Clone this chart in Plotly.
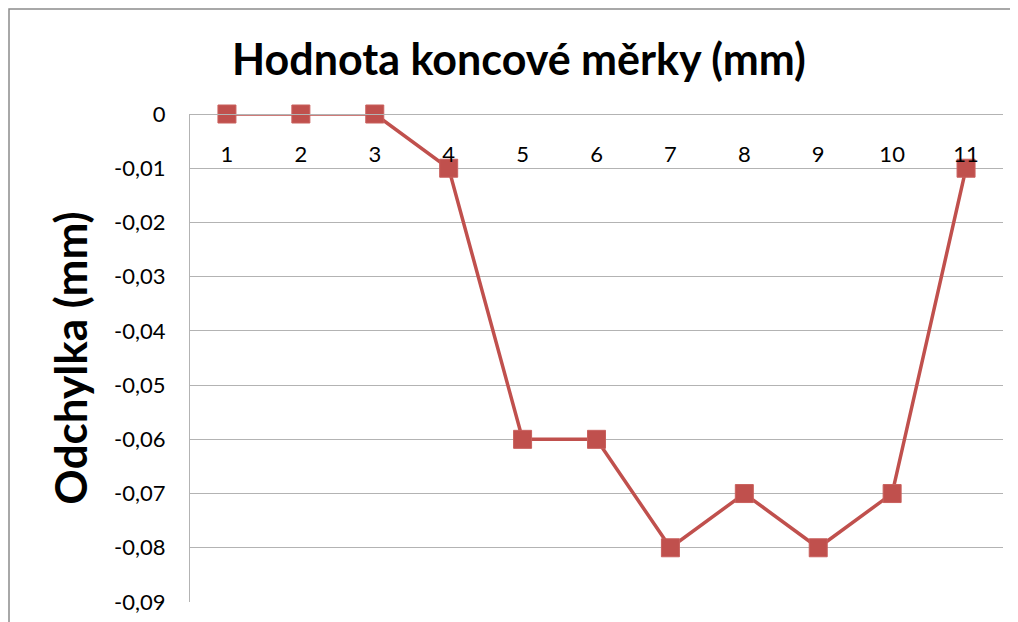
import plotly.graph_objects as go

categories = ["1", "2", "3", "4", "5", "6", "7", "8", "9", "10", "11"]
odchylka = [0, 0, 0, -0.01, -0.06, -0.06, -0.08, -0.07, -0.08, -0.07, -0.01]
y_tick_vals = [0, -0.01, -0.02, -0.03, -0.04, -0.05, -0.06, -0.07, -0.08, -0.09]
y_tick_text = ["0", "-0,01", "-0,02", "-0,03", "-0,04", "-0,05", "-0,06", "-0,07", "-0,08", "-0,09"]

RED = "#C0504D"
GRID = "#B3B3B3"
FONT = "Lato"

fig = go.Figure()
fig.add_trace(go.Scatter(
    x=categories, y=odchylka, mode="lines+markers",
    line=dict(color=RED, width=3.5),
    marker=dict(symbol="square", size=18, color=RED, line=dict(color="#C9605D", width=1)),
    cliponaxis=False, showlegend=False,
))

OFF = 8  # page body margin
W, H = 1018 - OFF, 622 - OFF
L, R, T, B = 190 - OFF, 15, 114 - OFF, 20
pw, ph = W - L - R, H - T - B

def px_to_paper_x(px):
    return (px - OFF - L) / pw

def px_to_paper_y(py):
    return (H - B - (py - OFF)) / ph

fig.add_shape(type="rect", xref="paper", yref="paper",
              x0=px_to_paper_x(9), x1=px_to_paper_x(1040),
              y0=px_to_paper_y(660), y1=px_to_paper_y(9),
              line=dict(color="#8C8C8C", width=1.5), fillcolor="rgba(0,0,0,0)", layer="below")

fig.update_layout(
    width=W, height=H,
    margin=dict(l=L, r=R, t=T, b=B, autoexpand=False),
    paper_bgcolor="white", plot_bgcolor="white",
    font=dict(family=FONT, color="#000000"),
    title=dict(text="<b>Hodnota koncové měrky (mm)</b>", font=dict(family=FONT, size=43, color="#000000"),
               x=(519 - OFF) / W, xanchor="center", y=1 - (60 - OFF) / H, yanchor="middle"),
    xaxis=dict(
        type="category", range=[-0.5, 10.5], side="bottom",
        anchor="free", position=1,
        ticklabelstandoff=20,
        showgrid=False, showline=True, linecolor=GRID, linewidth=1.3,
        ticks="", tickfont=dict(family=FONT, size=22, color="#000000"),
        zeroline=False, fixedrange=True,
    ),
    yaxis=dict(
        range=[-0.0900001, 0.0000001], tickvals=y_tick_vals, ticktext=y_tick_text,
        showgrid=True, gridcolor=GRID, gridwidth=1.3,
        showline=True, linecolor=GRID, linewidth=1.3,
        zeroline=False, ticks="", ticklabelstandoff=19,
        tickfont=dict(family=FONT, size=22, color="#000000"),
        title=dict(text="<b>Odchylka (mm)</b>", font=dict(family=FONT, size=44, color="#000000"), standoff=12),
        automargin=False,
    ),
)

fig.write_html("out.html")
